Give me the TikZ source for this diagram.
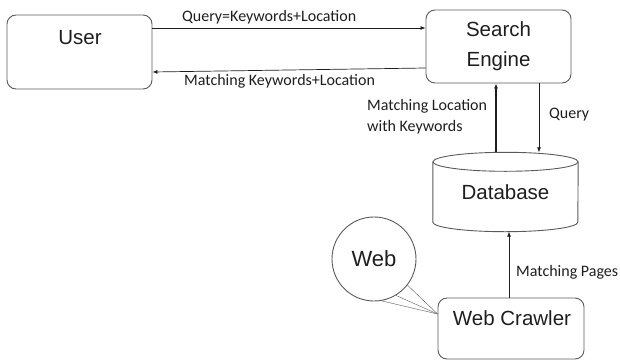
\documentclass[tikz,border=0pt]{standalone}
\usepackage{fontspec}
\setmainfont{Liberation Sans}
\newfontfamily\labelfont{Carlito}
\usetikzlibrary{arrows.meta}
\definecolor{boxgray}{HTML}{5A5A5A}
\definecolor{inkgray}{HTML}{1E1E1E}
\newcommand{\boxFont}[0]{\fontsize{20.5}{30}\selectfont}
\newcommand{\labelFont}[0]{\labelfont\fontsize{16}{21}\selectfont}

\begin{document}
\begin{tikzpicture}[x=1pt, y=1pt]
  \tikzset{every node/.style={inner sep=0pt, text=inkgray},
    box/.style={draw=boxgray, line width=0.9pt, rounded corners=9pt, font=\boxFont},
    boxtext/.style={font=\boxFont},
    lbl/.style={font=\labelFont, anchor=west, align=left},
    link/.style={draw=inkgray, line width=0.7pt, -{Latex[length=5pt,width=4pt]}},
    fan/.style={draw=boxgray, line width=0.4pt}}
  \useasboundingbox (0,0) rectangle (620,360);
  \node[box, minimum width=145pt, minimum height=74pt] (user) at (79.5,308) {};
  \node[boxtext] (usertext) at (80,322) {User};
  \node[box, minimum width=145pt, minimum height=73pt, align=center] (engine) at (498.5,313.5) {Search\\Engine};
  \node[boxtext, minimum width=145pt, minimum height=79pt] (db) at (505.5,168) {Database};
  \draw[boxgray, line width=0.9pt] ([yshift=-9.5pt]db.north) ellipse [x radius=72.5pt, y radius=9.5pt];
  \draw[boxgray, line width=0.9pt] ([yshift=-9.5pt]db.north west) -- ([yshift=9.5pt]db.south west)
    arc[start angle=180, end angle=360, x radius=72.5pt, y radius=9.5pt] -- ([yshift=-9.5pt]db.north east);
  \node[circle, draw=boxgray, line width=0.9pt, minimum size=84pt, font=\fontsize{22}{26}\selectfont] (web) at (374,101) {Web};
  \node[box, minimum width=146pt, minimum height=61pt] (crawler) at (511,31.5) {};
  \node[boxtext] (crawlertext) at (512,42) {Web Crawler};
  \draw[link] ([yshift=24pt]user.east) -- ([yshift=18.5pt]engine.west);
  \draw[link] ([yshift=-21.5pt]engine.west) -- ([yshift=-20pt]user.east);
  \draw[link, line width=1.2pt] ([xshift=-9.5pt]db.north) -- ([xshift=-2.5pt]engine.south);
  \draw[link] ([xshift=40.5pt]engine.south) -- ([xshift=33.5pt]db.north);
  \draw[link] ([xshift=-2pt]crawler.north) -- ([xshift=3.5pt]db.south);
  \foreach \a in {-38,-59,-80}
    \draw[fan] (web.\a) -- ([yshift=14.5pt]crawler.west);
  \node[lbl] (querylbl) at (182,343) {Query=Keywords+Location};
  \node[lbl] (matchlbl) at (184,279) {Matching Keywords+Location};
  \node[lbl] (locationlbl) at (367,243.5) {Matching Location\\with Keywords};
  \node[lbl] (dbquerylbl) at (549,245) {Query};
  \node[lbl] (pageslbl) at (516,88) {Matching Pages};
\end{tikzpicture}
\end{document}
